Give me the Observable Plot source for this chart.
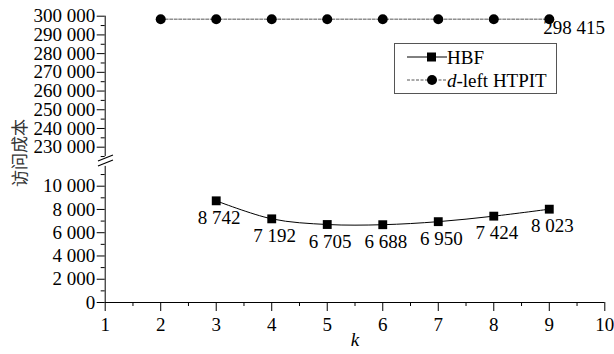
<!DOCTYPE html>
<html><head><meta charset="utf-8">
<script src="https://cdn.jsdelivr.net/npm/d3@7"></script>
<script src="https://cdn.jsdelivr.net/npm/@observablehq/plot@0.6"></script>
<style>
body{margin:0;background:#fff}
</style>
</head><body><div id="chart"></div>
<script>
// ---- data ----
const kHBF = [3, 4, 5, 6, 7, 8, 9];
const hbfCost = [8742, 7192, 6705, 6688, 6950, 7424, 8023];
const kDleft = [2, 3, 4, 5, 6, 7, 8, 9];
const dleftCost = [298415, 298415, 298415, 298415, 298415, 298415, 298415, 298415];
const xTicks = [1, 2, 3, 4, 5, 6, 7, 8, 9, 10];
const xMinor = [1.5, 2.5, 3.5, 4.5, 5.5, 6.5, 7.5, 8.5, 9.5];
const yTicksLow = [0, 2000, 4000, 6000, 8000, 10000];
const yMinorLow = [1000, 3000, 5000, 7000, 9000, 11000];
const yTicksHigh = [230000, 240000, 250000, 260000, 270000, 280000, 290000, 300000];
const yMinorHigh = [225000, 235000, 245000, 255000, 265000, 275000, 285000, 295000];
const seriesNames = ["HBF", "d-left HTPIT"];
const yTitle = "访问成本";
const xTitle = "k";

// ---- broken y axis: piecewise map into a virtual linear domain ----
const lowTop = 11700, highBottom = 225000;
function u(v) {
  return v <= 20000 ? v * 0.01163 : 155.3 + (v - 230000) * 0.001871;
}
const fmt = v => d3.format(",")(v).replace(/,/g, " ");
const yTicks = [...yTicksLow, ...yTicksHigh];
const yLabel = new Map(yTicks.map(v => [u(v), fmt(v)]));

const hbf = kHBF.map((k, i) => ({k, v: hbfCost[i]}));
const dl = kDleft.map((k, i) => ({k, v: dleftCost[i]}));
const serif = "'Liberation Serif', 'Times New Roman', serif";
const cjk = "'Noto Sans CJK SC', sans-serif";

const chart = Plot.plot({
  width: 614,
  height: 354,
  marginLeft: 104.7,
  marginRight: 9.7,
  marginTop: 15.7,
  marginBottom: 52,
  style: {fontSize: "19px", background: "white", color: "black"},
  x: {domain: [1, 10], label: null},
  y: {domain: [0, u(300000)], label: null},
  marks: [
    // axis lines
    Plot.ruleY([0], {stroke: "black"}),
    Plot.ruleX([1], {y1: u(0), y2: u(lowTop), stroke: "black"}),
    Plot.ruleX([1], {y1: u(highBottom), y2: u(300000), stroke: "black"}),
    // break marks
    Plot.link([{o: 136.5}, {o: 141.5}], {x1: 0.87, x2: 1.14, y1: d => d.o, y2: d => d.o + 6, stroke: "black", strokeWidth: 1.2}),
    // axes
    Plot.axisX({ticks: xTicks, tickSize: 9, tickPadding: 6, fontSize: 19, tickFormat: d => String(d), label: null}),
    Plot.axisX({ticks: xMinor, tickSize: 4, tickFormat: () => "", label: null}),
    Plot.axisY({ticks: yTicks.map(u), tickSize: 8, tickPadding: 2, fontSize: 19, tickFormat: d => yLabel.get(d), label: null}),
    Plot.axisY({ticks: [...yMinorLow, ...yMinorHigh].map(u), tickSize: 4, tickFormat: () => "", label: null}),
    // x title
    Plot.text([xTitle], {frameAnchor: "bottom", dy: 43, fontStyle: "italic", fontSize: 19}),
    // d-left HTPIT
    Plot.line(dl, {x: "k", y: d => u(d.v), stroke: "#555", strokeWidth: 1, strokeDasharray: "3,1.5"}),
    Plot.dot(dl, {x: "k", y: d => u(d.v), r: 5, fill: "black", stroke: "none"}),
    Plot.text(dl.slice(-1), {x: "k", y: d => u(d.v), text: d => fmt(d.v), textAnchor: "start", dx: -6, dy: 9, fontSize: 19}),
    // HBF
    Plot.line(hbf, {x: "k", y: d => u(d.v), stroke: "black", strokeWidth: 1, curve: "catmull-rom"}),
    Plot.dot(hbf, {x: "k", y: d => u(d.v), symbol: "square", r: 5, fill: "black", stroke: "none"}),
    Plot.text(hbf, {x: "k", y: d => u(d.v), text: d => fmt(d.v), dx: 3, dy: 17, fontSize: 19})
  ]
});
document.getElementById("chart").appendChild(chart);

// force serif on every Plot text element
const svg = d3.select(chart);
svg.selectAll("text").style("font-family", serif);

// ---- y title (rotated) ----
svg.append("text")
  .attr("transform", "translate(18,153) rotate(-90)")
  .attr("text-anchor", "middle")
  .attr("dominant-baseline", "central")
  .attr("font-size", 17)
  .attr("fill", "#333")
  .style("font-family", cjk)
  .text(yTitle);

// ---- legend ----
const g = svg.append("g").attr("font-size", 19).attr("text-anchor", "start");
g.append("rect").attr("x", 394.5).attr("y", 43.5).attr("width", 162).attr("height", 50)
  .attr("fill", "white").attr("stroke", "#555");
const rows = [{y: 57, dash: null}, {y: 80, dash: "3,1.5"}];
rows.forEach((r, i) => {
  g.append("line").attr("x1", 407).attr("x2", 447).attr("y1", r.y).attr("y2", r.y)
    .attr("stroke", i ? "#555" : "black").attr("stroke-dasharray", r.dash);
  if (i === 0) g.append("rect").attr("x", 427).attr("y", r.y - 4.5).attr("width", 9).attr("height", 9).attr("fill", "black");
  else g.append("circle").attr("cx", 432).attr("cy", r.y).attr("r", 5).attr("fill", "black");
  const t = g.append("text").attr("x", 447).attr("y", r.y).attr("dy", "0.35em").style("font-family", serif);
  if (i === 0) t.text(seriesNames[0]);
  else {
    t.append("tspan").attr("font-style", "italic").text("d");
    t.append("tspan").text(seriesNames[1].slice(1));
  }
});
</script>
</body></html>
